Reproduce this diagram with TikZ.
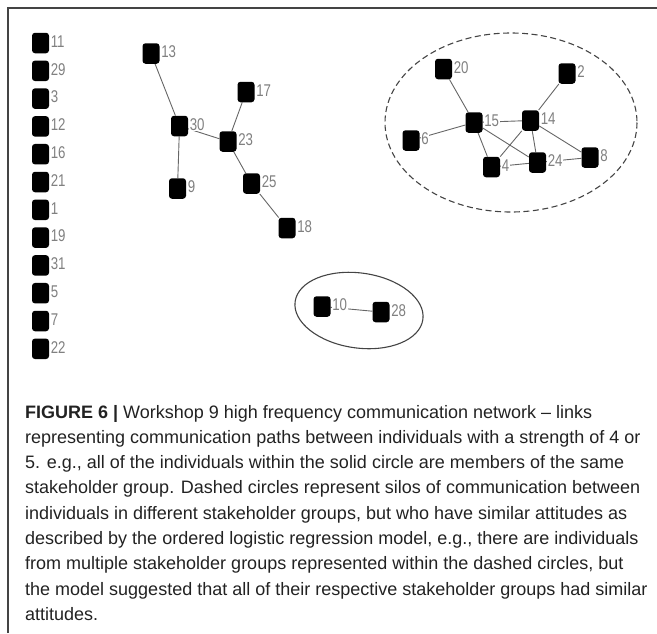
\documentclass[tikz,border=0pt]{standalone}
\usepackage{fontspec}
\setmainfont{Liberation Sans}
\newfontfamily\labfont[FakeStretch=0.78]{Liberation Sans}
\usetikzlibrary{backgrounds}
\definecolor{labgrey}{HTML}{808080}
\definecolor{edgegrey}{HTML}{666666}
\definecolor{framegrey}{HTML}{444444}
\definecolor{captext}{HTML}{222222}
\begin{document}
\begin{tikzpicture}[x=1pt,y=-1pt,
  nd/.style={fill=black, rounded corners=3pt, minimum width=17pt, minimum height=20.5pt, inner sep=0pt},
  lb/.style={fill=white, text=labgrey, font=\labfont\fontsize{17}{17}\selectfont, inner sep=0.6pt, anchor=west},
  ed/.style={draw=edgegrey, line width=0.9pt}]
\useasboundingbox (0,0) rectangle (657,633);
\draw[framegrey, line width=1.4pt] (8,633) -- (8,8) -- (657,8);
% isolated column
\foreach \n [count=\i from 0] in {11,29,3,12,16,21,1,19,31,5,7,22}{
  \node[nd] (n\n) at (40.5,43+27.8*\i) {};
}
% nodes
\node[nd] (n13) at (151,53.5) {};
\node[nd] (n30) at (179.5,126) {};
\node[nd] (n17) at (246,92) {};
\node[nd] (n23) at (228,141.5) {};
\node[nd] (n9)  at (177.5,188.5) {};
\node[nd] (n25) at (251.5,183.5) {};
\node[nd] (n18) at (287,228) {};
\node[nd] (n20) at (443.5,69) {};
\node[nd] (n2)  at (567,73.5) {};
\node[nd] (n15) at (474,122.5) {};
\node[nd] (n14) at (530.5,120.5) {};
\node[nd] (n6)  at (411,140.5) {};
\node[nd] (n4)  at (491.5,167) {};
\node[nd] (n24) at (537.5,162.5) {};
\node[nd] (n8)  at (590,157.5) {};
\node[nd] (n10) at (322,306.5) {};
\node[nd] (n28) at (381,312) {};
% labels
\foreach \n in {11,29,3,12,16,21,1,19,31,5,7,22,13,30,17,23,9,25,18,20,2,15,14,6,4,24,8,10,28}{
  \node[lb] (l\n) at ([xshift=0.8pt,yshift=1.5pt]n\n.east) {\n};
}
% edges
\begin{pgfonlayer}{background}
\draw[ed] (n13) -- (n30);
\draw[ed] (n30) -- (n9);
\draw[ed] (n30) -- (n23);
\draw[ed] (n17) -- (n23);
\draw[ed] (n23) -- (n25);
\draw[ed] (n25) -- (n18);
\draw[ed] (n20) -- (n15);
\draw[ed] (n2) -- (n14);
\draw[ed] (n15) -- (n14);
\draw[ed] (n6) -- (n15);
\draw[ed] (n15) -- (n4);
\draw[ed] (n15) -- (n24);
\draw[ed] (n14) -- (n4);
\draw[ed] (n14) -- (n24);
\draw[ed] (n14) -- (n8);
\draw[ed] (n4) -- (n24);
\draw[ed] (n24) -- (n8);
\draw[ed] (n10) -- (n28);
\end{pgfonlayer}
% group outlines
\draw[framegrey, line width=1.1pt, dash pattern=on 6pt off 3.5pt] (511,122.5) ellipse [x radius=126, y radius=89.5];
\draw[framegrey, line width=1.1pt, rotate around={-8:(359,310.5)}] (359,310.5) ellipse [x radius=64.5, y radius=37.5];
% caption
\node[anchor=base west, align=left, inner sep=0pt, text=captext, font=\fontsize{18}{25.3}\selectfont] (cap) at (25,620.4)
{\textbf{FIGURE 6 |} Workshop 9 high frequency communication network -- links\\
representing communication paths between individuals with a strength of 4 or\\
5. e.g., all of the individuals within the solid circle are members of the same\\
stakeholder group. Dashed circles represent silos of communication between\\
individuals in different stakeholder groups, but who have similar attitudes as\\
described by the ordered logistic regression model, e.g., there are individuals\\
from multiple stakeholder groups represented within the dashed circles, but\\
the model suggested that all of their respective stakeholder groups had similar\\
attitudes.};
\end{tikzpicture}
\end{document}
